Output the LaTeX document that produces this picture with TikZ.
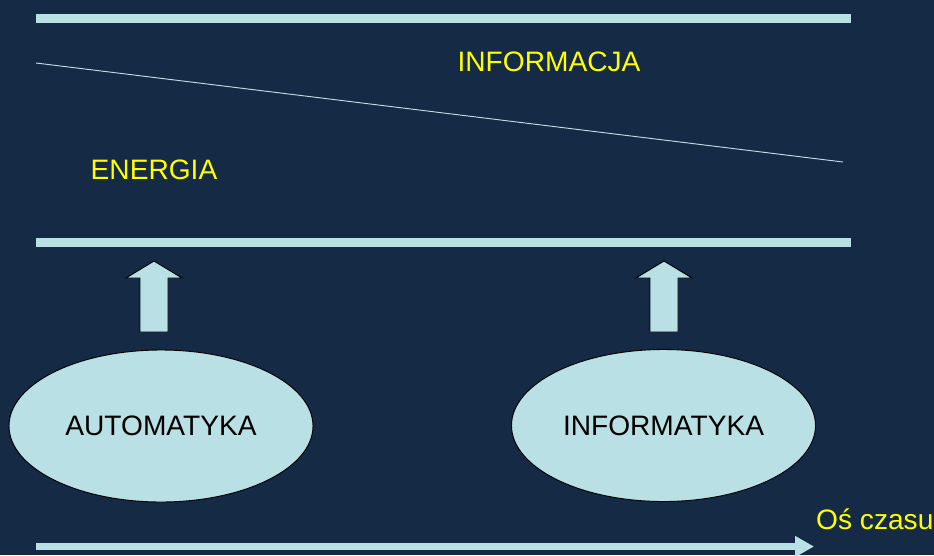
\documentclass[tikz,border=0pt]{standalone}
\usepackage{fontspec}
\setmainfont{Liberation Sans}
\usepackage{xcolor}
\usepackage{tikz}
\usetikzlibrary{positioning}
\usetikzlibrary{shapes.geometric}
\usetikzlibrary{arrows.meta}
\usetikzlibrary{calc}

\definecolor{navy}{RGB}{21,42,69}
\definecolor{pale}{RGB}{185,224,228}
\definecolor{lemon}{RGB}{255,255,0}

\begin{document}
\begin{tikzpicture}[x=0.03cm,y=-0.03cm]
\tikzstyle{band}=[fill=pale,inner sep=0,minimum width=24.45cm,minimum height=0.27cm]
\tikzstyle{label}=[text=lemon,inner sep=0,font=\fontsize{24pt}{28pt}\selectfont]
\tikzstyle{field}=[ellipse,draw=black,line width=0.8pt,fill=pale,inner sep=0,
  minimum width=9.12cm,minimum height=4.56cm,font=\fontsize{24pt}{28pt}\selectfont]
\tikzstyle{uparrow}=[draw=black,line width=0.8pt,fill=pale]
\tikzstyle{timeline}=[pale,line width=0.21cm,-{Triangle[length=0.57cm,width=0.6cm]}]

\fill[navy] (0,0) rectangle (934,555);
\useasboundingbox (0,0) rectangle (934,555);

\node[band] (bar0) at (443.5,18.5) {};
\node[band] (bar1) at (443.5,242.5) {};
\coordinate (split0) at (36,63);
\coordinate (split1) at (843,162);
\draw[pale,line width=0.8pt] (split0) -- (split1);

\node[label] (info) at (549,62) {INFORMACJA};
\node[label] (energy) at (154,170) {ENERGIA};

\node[field] (auto) at (161,426) {AUTOMATYKA};
\node[field] (inf) at (663.5,425.5) {INFORMATYKA};

\foreach \cx in {154,664}
  \draw[uparrow] ({\cx-14},332) -- ({\cx-14},278) -- ({\cx-28},278) -- (\cx,261)
    -- ({\cx+28},278) -- ({\cx+14},278) -- ({\cx+14},332) -- cycle;

\coordinate (t0) at (36,546.5);
\coordinate (t1) at (814,546.5);
\draw[timeline] (t0) -- (t1);
\node[label,anchor=west] (axis) at (816,519) {Oś czasu};
\end{tikzpicture}
\end{document}
